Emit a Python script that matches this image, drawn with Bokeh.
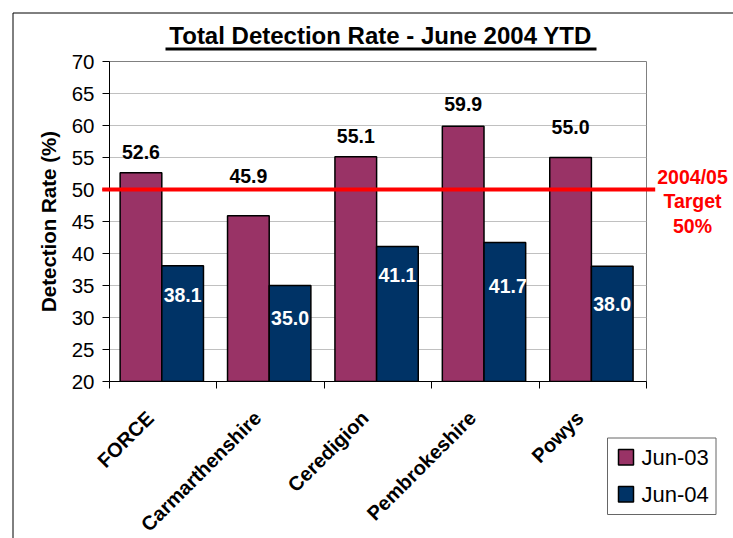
import math
import numpy as np
from bokeh.plotting import figure
from bokeh.models import Range1d, FixedTicker
from bokeh.embed import file_html
from bokeh.resources import INLINE
from bokeh.core.properties import value

# ---------------- data ----------------
categories = ["FORCE", "Carmarthenshire", "Ceredigion", "Pembrokeshire", "Powys"]
series_names = ["Jun-03", "Jun-04"]
jun03 = [52.6, 45.9, 55.1, 59.9, 55.0]
jun04 = [38.1, 35.0, 41.1, 41.7, 38.0]
target = 50
target_text = ["2004/05", "Target", "50%"]
y_ticks = [20, 25, 30, 35, 40, 45, 50, 55, 60, 65, 70]
title_text = "Total Detection Rate - June 2004 YTD"
y_label = "Detection Rate (%)"

# label placement (screen px offsets of the label centre from bar top)
jun03_label_dy = [-21, -40, -21, -22, -31]
jun04_label_dy = [29, 32, 29, 43, 38]
jun04_label_dx = [0, 0, 0, 3, 0]

# ---------------- style / layout ----------------
FONT = "Liberation Sans"
C03 = "#993366"
C04 = "#003366"
series_colors = [C03, C04]
W, H = 733, 538
FRAME_L, FRAME_T, FW, FH = 109, 61, 537, 320   # canvas px
X0, X1 = 0, len(categories)
Y0, Y1 = y_ticks[0], y_ticks[-1]
UX = (X1 - X0) / FW     # data units per px (x)
UY = (Y1 - Y0) / FH     # data units per px (y)


def xd(cx):
    return X0 + (cx - FRAME_L) * UX


def yd(cy):
    return Y1 - (cy - FRAME_T) * UY


p = figure(frame_width=FW, frame_height=FH,
           min_border_left=FRAME_L, min_border_top=FRAME_T,
           min_border_right=W - FRAME_L - FW, min_border_bottom=H - FRAME_T - FH,
           x_range=Range1d(X0, X1), y_range=Range1d(Y0, Y1),
           toolbar_location=None, output_backend="svg")
p.background_fill_color = "white"
p.border_fill_color = "white"
p.outline_line_color = "#808080"
p.outline_line_width = 1

BW = 0.388
idx = np.arange(len(categories))
centers = idx + 0.5 - 0.013
x03 = centers - BW / 2
x04 = centers + BW / 2

r03 = p.vbar(x=x03, top=jun03, bottom=Y0, width=BW, fill_color=C03,
             line_color="black", line_width=1.5)
r04 = p.vbar(x=x04, top=jun04, bottom=Y0, width=BW, fill_color=C04,
             line_color="black", line_width=1.5)

# target line (drawn a little past the plot area on both sides)
p.segment(x0=[xd(101.7)], y0=[target], x1=[xd(654.7)], y1=[target],
          line_color="#ff0000", line_width=4, level="overlay")

p.text(x=x03, y=jun03, text=[f"{v:.1f}" for v in jun03], y_offset=jun03_label_dy,
       text_align="center", text_baseline="middle", text_font=value(FONT),
       text_font_style="bold", text_font_size="19.5px", text_color="black",
       level="overlay")
p.text(x=x04, y=jun04, text=[f"{v:.1f}" for v in jun04], y_offset=jun04_label_dy,
       x_offset=jun04_label_dx,
       text_align="center", text_baseline="middle", text_font=value(FONT),
       text_font_style="bold", text_font_size="19.5px", text_color="white",
       level="overlay")

# axes
p.yaxis.ticker = FixedTicker(ticks=y_ticks)
p.yaxis.major_tick_out = 7
p.yaxis.major_tick_in = 0
p.yaxis.minor_tick_line_color = None
p.yaxis.axis_line_color = "black"
p.yaxis.major_tick_line_color = "black"
p.yaxis.major_label_text_font = FONT
p.yaxis.major_label_text_font_size = "20.5px"
p.yaxis.major_label_text_color = "black"
p.yaxis.major_label_standoff = 8
p.yaxis.axis_label = y_label
p.yaxis.axis_label_text_font = FONT
p.yaxis.axis_label_text_font_size = "20.5px"
p.yaxis.axis_label_text_font_style = "bold"
p.yaxis.axis_label_text_color = "black"
p.yaxis.axis_label_standoff = 9

p.xaxis.ticker = FixedTicker(ticks=[], minor_ticks=list(range(X0, X1 + 1)))
p.xaxis.major_label_text_font_size = "0px"
p.xaxis.major_tick_line_color = None
p.xaxis.minor_tick_out = 7
p.xaxis.minor_tick_in = 0
p.xaxis.minor_tick_line_color = "black"
p.xaxis.axis_line_color = "black"

p.ygrid.grid_line_color = "#c0c0c0"
p.ygrid.ticker = FixedTicker(ticks=y_ticks)
p.xgrid.visible = False

# category labels (rotated 45 degrees, right end at the category)
p.text(x=idx + 0.5, y=[Y0] * len(categories), text=categories,
       x_offset=-13, y_offset=33, angle=math.pi / 4,
       text_align="right", text_baseline="middle", text_font=value(FONT),
       text_font_style="bold", text_font_size="20px", text_color="black",
       level="overlay")

# target text
p.text(x=[xd(692)] * 3, y=[yd(176), yd(200.8), yd(225.8)], text=target_text,
       text_align="center", text_baseline="middle", text_font=value(FONT),
       text_font_style="bold", text_font_size="19.5px", text_color="#ff0000",
       level="overlay")

# title with underline
p.text(x=[xd(380)], y=[yd(34.7)], text=[title_text], text_align="center",
       text_baseline="middle", text_font=value(FONT), text_font_style="bold",
       text_font_size="24px", text_color="black", level="overlay")
p.segment(x0=[xd(165)], y0=[yd(48.5)], x1=[xd(596)], y1=[yd(48.5)],
          line_color="black", line_width=3, level="overlay")

# chart-area border (left and top edges visible)
p.segment(x0=[xd(12.5), xd(12.5)], y0=[yd(12.5), yd(12.5)],
          x1=[xd(800), xd(12.5)], y1=[yd(12.5), yd(700)],
          line_color="black", line_width=1, level="overlay")

# legend box (below-right of the plot area)
p.quad(left=[xd(607)], right=[xd(715.5)], top=[yd(437.5)], bottom=[yd(514)],
       fill_color="white", line_color="#666666", line_width=1, level="overlay")
sw_top = [449, 486]
p.quad(left=[xd(618)] * 2, right=[xd(633)] * 2,
       top=[yd(t) for t in sw_top], bottom=[yd(t + 15.5) for t in sw_top],
       fill_color=series_colors, line_color="black", line_width=1.5, level="overlay")
p.text(x=[xd(641)] * 2, y=[yd(457), yd(494)], text=series_names,
       text_align="left", text_baseline="middle", text_font=value(FONT),
       text_font_size="22px", text_color="black", level="overlay")

open("out.html", "w").write(file_html(p, INLINE))
